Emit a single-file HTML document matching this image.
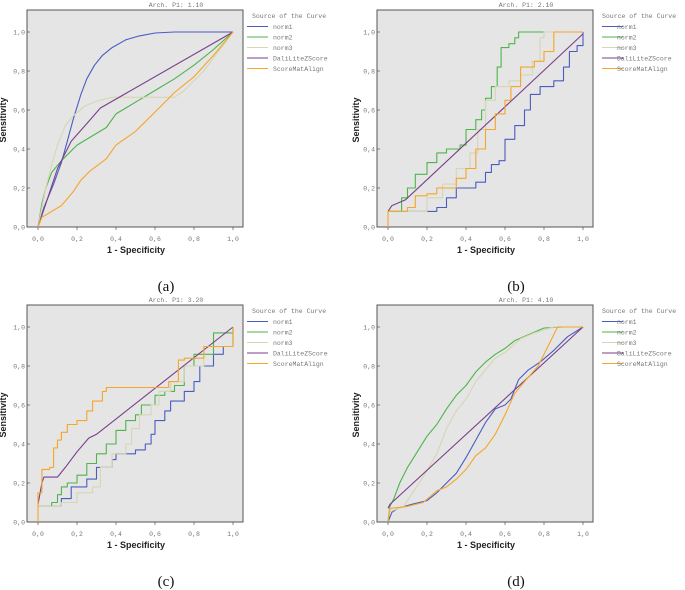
<!DOCTYPE html>
<html><head><meta charset="utf-8"><style>
body{margin:0;background:#fff;width:685px;height:590px;overflow:hidden}
svg{display:block}
.mono{font-family:"Liberation Mono",monospace;fill:#777}
.ax{font-family:"Liberation Sans",sans-serif;font-weight:bold;fill:#222;font-size:9px}
.cap{font-family:"Liberation Serif",serif;fill:#111;font-size:15px}
</style></head><body>
<svg id="fig" width="685" height="590" viewBox="0 0 685 590" xmlns="http://www.w3.org/2000/svg"></svg>
<script>
const panelTitles = ["Arch. P1: 1.10","Arch. P1: 2.10","Arch. P1: 3.20","Arch. P1: 4.10"];
const panelCaptions = ["(a)","(b)","(c)","(d)"];
const seriesNames = ["norm1","norm2","norm3","DaliLiteZScore","ScoreMatAlign"];
const seriesColors = ["#4a5cc0","#4cb54a","#d6d6b4","#7a3f8a","#f5a52a"];
const tickValues = [0,0.2,0.4,0.6,0.8,1.0];
const tickLabels = ["0,0","0,2","0,4","0,6","0,8","1,0"];
const panelStepped = [false,true,true,false];

const dataA = [
 [[0,0],[0.03,0.1],[0.08,0.22],[0.12,0.33],[0.15,0.44],[0.18,0.55],[0.22,0.68],[0.25,0.76],[0.29,0.83],[0.33,0.88],[0.38,0.92],[0.45,0.96],[0.52,0.98],[0.6,0.995],[0.7,1],[1,1]],
 [[0,0],[0.02,0.12],[0.04,0.2],[0.07,0.28],[0.12,0.34],[0.2,0.42],[0.3,0.48],[0.35,0.51],[0.4,0.58],[0.5,0.64],[0.6,0.7],[0.7,0.76],[0.8,0.83],[0.9,0.91],[1,1]],
 [[0,0],[0.04,0.2],[0.07,0.32],[0.1,0.42],[0.14,0.52],[0.18,0.57],[0.24,0.62],[0.3,0.645],[0.38,0.665],[0.5,0.665],[0.7,0.665],[0.75,0.7],[0.85,0.8],[1,1]],
 [[0,0],[0.05,0.15],[0.1,0.3],[0.17,0.44],[0.25,0.53],[0.32,0.61],[1,1]],
 [[0,0],[0.02,0.05],[0.07,0.08],[0.12,0.11],[0.18,0.18],[0.22,0.24],[0.27,0.29],[0.35,0.35],[0.4,0.42],[0.5,0.49],[0.6,0.59],[0.7,0.69],[0.8,0.77],[0.9,0.88],[1,1]]
];
const dataB = [
 [[0,0.08],[0.2,0.08],[0.25,0.1],[0.3,0.15],[0.35,0.2],[0.45,0.23],[0.5,0.28],[0.53,0.32],[0.57,0.34],[0.6,0.45],[0.65,0.52],[0.7,0.6],[0.73,0.68],[0.78,0.72],[0.85,0.75],[0.9,0.82],[0.93,0.9],[0.97,0.93],[1,1]],
 [[0,0.08],[0.05,0.08],[0.07,0.15],[0.1,0.2],[0.14,0.27],[0.2,0.33],[0.25,0.38],[0.3,0.4],[0.37,0.42],[0.4,0.5],[0.45,0.55],[0.48,0.6],[0.5,0.66],[0.53,0.72],[0.56,0.82],[0.58,0.92],[0.62,0.94],[0.65,0.97],[0.67,1],[1,1]],
 [[0,0.08],[0.12,0.08],[0.2,0.15],[0.28,0.22],[0.35,0.3],[0.42,0.38],[0.46,0.5],[0.5,0.65],[0.55,0.72],[0.62,0.75],[0.68,0.78],[0.74,0.85],[0.78,0.97],[0.8,1],[1,1]],
 [[0,0.08],[0.02,0.11],[0.09,0.14],[1,0.99]],
 [[0,0],[0,0.08],[0.1,0.1],[0.14,0.16],[0.2,0.17],[0.25,0.2],[0.35,0.25],[0.4,0.3],[0.45,0.4],[0.5,0.5],[0.55,0.58],[0.6,0.65],[0.63,0.72],[0.68,0.82],[0.75,0.85],[0.8,0.9],[0.85,1],[1,1]]
];
const dataC = [
 [[0,0.08],[0.07,0.08],[0.12,0.12],[0.17,0.18],[0.25,0.22],[0.3,0.28],[0.38,0.32],[0.4,0.35],[0.5,0.37],[0.55,0.4],[0.58,0.45],[0.6,0.52],[0.65,0.57],[0.68,0.62],[0.75,0.67],[0.8,0.72],[0.83,0.8],[0.9,0.86],[0.95,0.9],[1,1]],
 [[0,0.08],[0.07,0.1],[0.1,0.14],[0.12,0.18],[0.15,0.2],[0.2,0.24],[0.25,0.3],[0.3,0.35],[0.35,0.4],[0.4,0.47],[0.45,0.52],[0.5,0.55],[0.53,0.6],[0.6,0.65],[0.65,0.67],[0.7,0.7],[0.75,0.8],[0.8,0.86],[0.9,0.97],[1,1]],
 [[0,0.08],[0.12,0.1],[0.2,0.15],[0.28,0.18],[0.32,0.28],[0.38,0.35],[0.45,0.4],[0.48,0.48],[0.52,0.55],[0.58,0.6],[0.62,0.67],[0.68,0.72],[0.75,0.8],[0.85,0.9],[1,1]],
 [[0,0.09],[0.02,0.2],[0.03,0.23],[0.1,0.23],[0.14,0.28],[0.2,0.36],[0.26,0.43],[0.3,0.45],[1,1]],
 [[0,0],[0,0.15],[0.02,0.27],[0.06,0.28],[0.08,0.38],[0.1,0.42],[0.12,0.46],[0.15,0.5],[0.2,0.52],[0.25,0.57],[0.28,0.62],[0.33,0.67],[0.35,0.69],[0.6,0.69],[0.67,0.72],[0.72,0.83],[0.75,0.84],[0.85,0.9],[1,1]]
];
const dataD = [
 [[0,0],[0.02,0.05],[0.05,0.07],[0.12,0.09],[0.2,0.11],[0.25,0.15],[0.3,0.2],[0.35,0.25],[0.4,0.33],[0.45,0.42],[0.5,0.51],[0.55,0.58],[0.6,0.6],[0.63,0.63],[0.67,0.73],[0.72,0.78],[0.78,0.82],[0.85,0.88],[0.92,0.95],[1,1]],
 [[0,0],[0.01,0.08],[0.03,0.12],[0.06,0.2],[0.1,0.28],[0.15,0.36],[0.2,0.44],[0.25,0.5],[0.3,0.58],[0.35,0.65],[0.4,0.7],[0.45,0.77],[0.5,0.82],[0.55,0.86],[0.6,0.89],[0.65,0.93],[0.72,0.96],[0.8,0.995],[0.9,1],[1,1]],
 [[0,0.05],[0.08,0.08],[0.12,0.14],[0.18,0.23],[0.25,0.35],[0.3,0.48],[0.35,0.57],[0.4,0.63],[0.45,0.72],[0.5,0.78],[0.55,0.84],[0.6,0.87],[0.68,0.94],[0.75,0.97],[0.85,1],[1,1]],
 [[0,0.07],[0.01,0.09],[1,1]],
 [[0,0],[0.01,0.07],[0.1,0.08],[0.18,0.1],[0.25,0.16],[0.3,0.18],[0.35,0.22],[0.4,0.27],[0.45,0.34],[0.5,0.38],[0.55,0.45],[0.6,0.55],[0.65,0.66],[0.7,0.72],[0.77,0.8],[0.82,0.9],[0.87,1],[1,1]]
];
const panelData = [dataA,dataB,dataC,dataD];

const NS="http://www.w3.org/2000/svg";
const svg=document.getElementById('fig');
function mk(tag,attrs,parent,text){const e=document.createElementNS(NS,tag);for(const k in attrs)e.setAttribute(k,attrs[k]);if(text!==undefined)e.textContent=text;parent.appendChild(e);return e;}
const offsets=[[0,0],[350,0],[0,295],[350,295]];
offsets.forEach((o,p)=>{
  const dx=o[0],dy=o[1];
  const g=mk('g',{},svg);
  
  
  const xs=v=>dx+38+v*195, ys=v=>dy+227-v*195;
  const box=mk('rect',{x:dx+27,y:dy+10,width:216,height:217,fill:'#e5e5e5',stroke:'#555','stroke-width':1},g);
  
  
  const t=mk('text',{x:dx+176,y:dy+7,'text-anchor':'middle','font-size':'6.5px',class:'mono'},g,panelTitles[p]);
  
  
  tickValues.forEach((v,i)=>{
    mk('line',{x1:dx+27,x2:dx+30,y1:ys(v),y2:ys(v),stroke:'#555','stroke-width':0.7},g);
    const yl=mk('text',{x:dx+25,y:ys(v)+2.5,'text-anchor':'end','font-size':'6.5px',class:'mono'},g,tickLabels[i]);
    
    
    mk('line',{x1:xs(v),x2:xs(v),y1:dy+227,y2:dy+230,stroke:'#555','stroke-width':0.7},g);
    const xl=mk('text',{x:xs(v),y:dy+241,'text-anchor':'middle','font-size':'6.5px',class:'mono'},g,tickLabels[i]);
    
    
  });
  const xt=mk('text',{x:dx+136,y:dy+253,'text-anchor':'middle',class:'ax'},g,'1 - Specificity');
  
  
  const cx=dx+(p%2?9:6), cy=dy+120;
  const yt=mk('text',{x:cx,y:cy,'text-anchor':'middle',class:'ax',transform:'rotate(-90 '+cx+' '+cy+')'},g,'Sensitivity');
  
  
  panelData[p].forEach((pts,s)=>{
    let seq=pts;
    if(panelStepped[p] && s!==3){
      seq=[];
      pts.forEach((q,i)=>{ if(i>0) seq.push([q[0],pts[i-1][1]]); seq.push(q); });
    }
    const pl=mk('polyline',{points:seq.map(q=>xs(q[0]).toFixed(1)+','+ys(q[1]).toFixed(1)).join(' '),fill:'none',stroke:seriesColors[s],'stroke-width':1.1,'stroke-linejoin':'round'},g);
    
    
  });
  const lx=p%2?dx+252:dx+247, tx=p%2?dx+267:dx+273;
  const lt=mk('text',{x:dx+252,y:dy+18,'font-size':'6.5px',class:'mono'},g,'Source of the Curve');
  
  
  seriesNames.forEach((n,s)=>{
    const y=dy+26.5+s*10.5;
    mk('line',{x1:lx,x2:lx+21,y1:y,y2:y,stroke:seriesColors[s],'stroke-width':1},g);
    const le=mk('text',{x:tx,y:y+2.3,'font-size':'6.5px',class:'mono'},g,n);
    
    
  });
  const c=mk('text',{x:dx+166,y:dy+291,'text-anchor':'middle',class:'cap'},g,panelCaptions[p]);
  
  
});
</script>
</body></html>
